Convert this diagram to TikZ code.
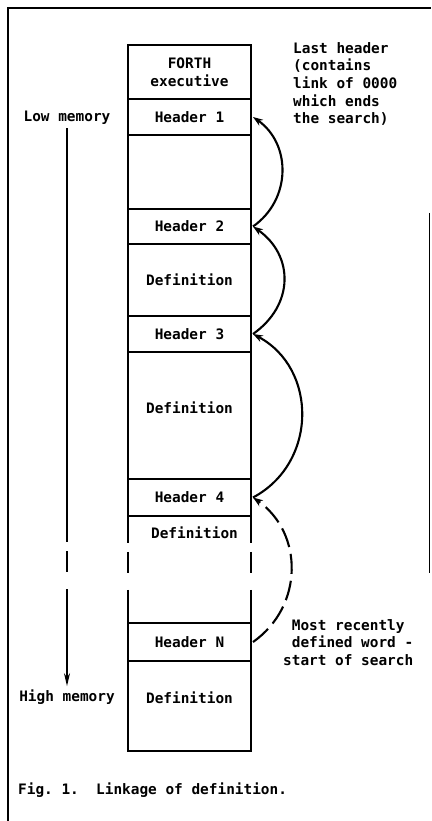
\documentclass[tikz,border=0pt]{standalone}
\usepackage{fontspec}
\setmonofont{DejaVu Sans Mono}
\usetikzlibrary{arrows.meta,positioning}

\begin{document}
\begin{tikzpicture}[x=1pt,y=1pt,
  every node/.style={font=\ttfamily\bfseries\fontsize{14.4}{17.7}\selectfont},
  cell/.style={draw, line width=1.6pt, minimum width=123pt, outer sep=0pt, inner sep=2pt, align=center},
  side/.style={line width=1.6pt, dash pattern=on 27pt off 9pt on 21pt off 17pt on 60pt off 1pt},
  link/.style={-{Stealth[length=10pt,width=7pt]}, line width=2.1pt},
  memarrow/.style={-{Stealth[length=13pt,width=6pt]}, line width=1.4pt, dash pattern=on 414pt off 9pt on 21pt off 17pt on 300pt off 1pt},
  note/.style={anchor=north west, align=left, inner sep=0pt}]
  \useasboundingbox (0,0) rectangle (431,821);

  % Frame of the figure
  \draw[line width=2pt] (8,0) -- (8,813) -- (431,813);
  \draw[line width=1pt] (429,608) -- (429,248);

  % Memory column
  \node[cell, minimum height=54pt] (forth) at (189.5,749) {FORTH\\executive};
  \node[cell, minimum height=36pt, below=0pt of forth] (hdr1) {Header 1};
  \node[cell, minimum height=74pt, below=0pt of hdr1] (blank) {};
  \node[cell, minimum height=35pt, below=0pt of blank] (hdr2) {Header 2};
  \node[cell, minimum height=72pt, below=0pt of hdr2] (def2) {Definition};
  \node[cell, minimum height=36pt, below=0pt of def2] (hdr3) {Header 3};
  \node[cell, minimum height=127pt, text depth=16pt, below=0pt of hdr3] (def3) {Definition};
  \node[cell, minimum height=37pt, below=0pt of def3] (hdr4) {Header 4};
  \node[below=7pt of hdr4, xshift=5pt] (def4) {Definition};

  \node[cell, minimum height=38pt] (hdrN) at (189.5,179) {Header N};
  \node[cell, minimum height=90pt, text depth=17pt, below=0pt of hdrN] (defN) {Definition};

  % Broken sides of the column
  \draw[side] (hdr4.south west) -- (hdrN.north west);
  \draw[side] (hdr4.south east) -- (hdrN.north east);

  %--- Memory direction ---
  \node (low) at (67,703) {Low memory};
  \node (high) at (67,124) {High memory};
  \draw[memarrow] (low.south) -- (high.north);

  %--- Links between headers ---
  \draw[link] ([xshift=2pt]hdr2.east) to[out=35,in=-35,looseness=1.1] ([xshift=2pt]hdr1.east);
  \draw[link] ([xshift=2pt]hdr3.east) to[out=35,in=-35,looseness=1.2] ([xshift=2pt]hdr2.east);
  \draw[link] ([xshift=2pt]hdr4.east) to[out=28,in=-28,looseness=1.15] ([xshift=2pt]hdr3.east);
  \draw[link, dash pattern=on 20pt off 7pt] ([xshift=2pt]hdrN.east) to[out=35,in=-35,looseness=1.1] ([xshift=2pt]hdr4.east);

  %--- Notes ---
  \node[note] (lastnote) at (293,779) {Last header\\(contains\\link of 0000\\which ends\\the search)};
  \node[note] (startnote) at (283,202) {\ Most recently\\\ defined word -\\start of search};

  \node[anchor=west, inner sep=0pt] (caption) at (18,31) {Fig. 1.\ \ Linkage of definition.};
\end{tikzpicture}
\end{document}
